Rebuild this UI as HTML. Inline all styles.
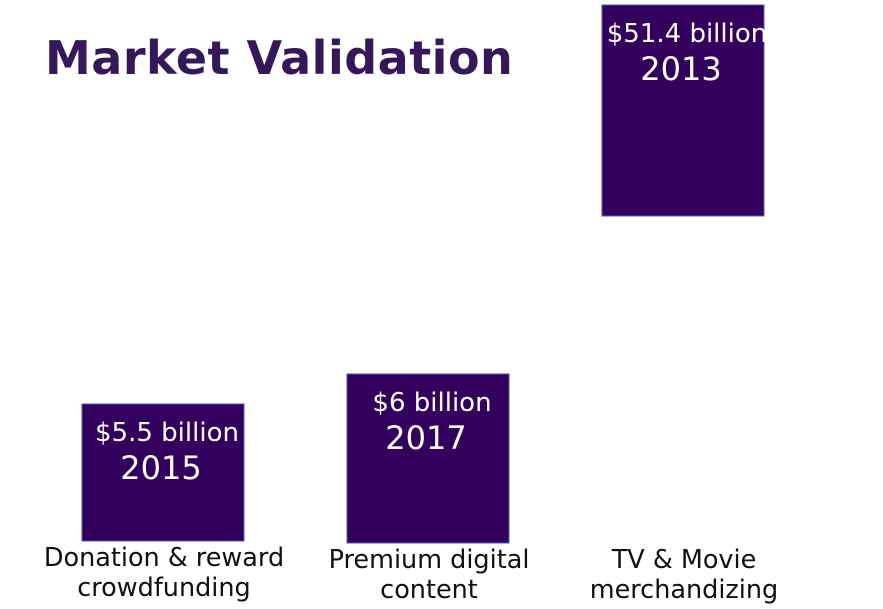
<!DOCTYPE html>
<html><head><meta charset="utf-8"><style>
body{margin:0;background:#fff;width:883px;height:609px;overflow:hidden;position:relative;font-family:"DejaVu Sans","Liberation Sans",sans-serif}
#title{position:absolute;left:45px;top:31px;font-size:46px;font-weight:bold;color:#35185a;margin:0;letter-spacing:0.5px}
svg{position:absolute;left:0;top:0}
</style></head><body>
<h1 id="title">Market Validation</h1>
<svg id="chart" width="883" height="609"></svg>
<script>
const categories=["Donation & reward|crowdfunding","Premium digital|content","TV & Movie|merchandizing"];
const values=[5.5,6,51.4];
const years=["2015","2017","2013"];
const valueLabels=["$5.5 billion","$6 billion","$51.4 billion"];
// layout
const barX=[82,347,602], barBottom=[541,543,216], barW=162;
const labelY=[557,559,559];
function hScale(v){const d=[5.5,6,51.4],r=[137,169,211];
 if(v<=d[1])return r[0]+(v-d[0])*(r[1]-r[0])/(d[1]-d[0]);
 return r[1]+(v-d[1])*(r[2]-r[1])/(d[2]-d[1]);}
const svg=document.getElementById('chart');const NS="http://www.w3.org/2000/svg";
function mk(t,a,txt){const e=document.createElementNS(NS,t);for(const k in a)e.setAttribute(k,a[k]);if(txt!=null)e.textContent=txt;svg.appendChild(e);return e;}
values.forEach((v,i)=>{
 const h=hScale(v),top=barBottom[i]-h,cx=barX[i]+barW/2;
 const r=mk('rect',{x:barX[i],y:top,width:barW,height:h,fill:'#33005e',stroke:'#4a5cb0','stroke-width':1});
 
 
 const t1=mk('text',{x:cx+4,y:top+37,'text-anchor':'middle',fill:'#fff','font-size':26},valueLabels[i]);
 
 
 const t2=mk('text',{x:cx-2,y:top+75,'text-anchor':'middle',fill:'#fff','font-size':32},years[i]);
 
 
 categories[i].split('|').forEach((ln,j)=>{
  const c=mk('text',{x:cx+1,y:labelY[i]+9+j*30,'text-anchor':'middle',fill:'#111','font-size':25.5},ln);
  
  
 });
});
</script>
</body></html>
